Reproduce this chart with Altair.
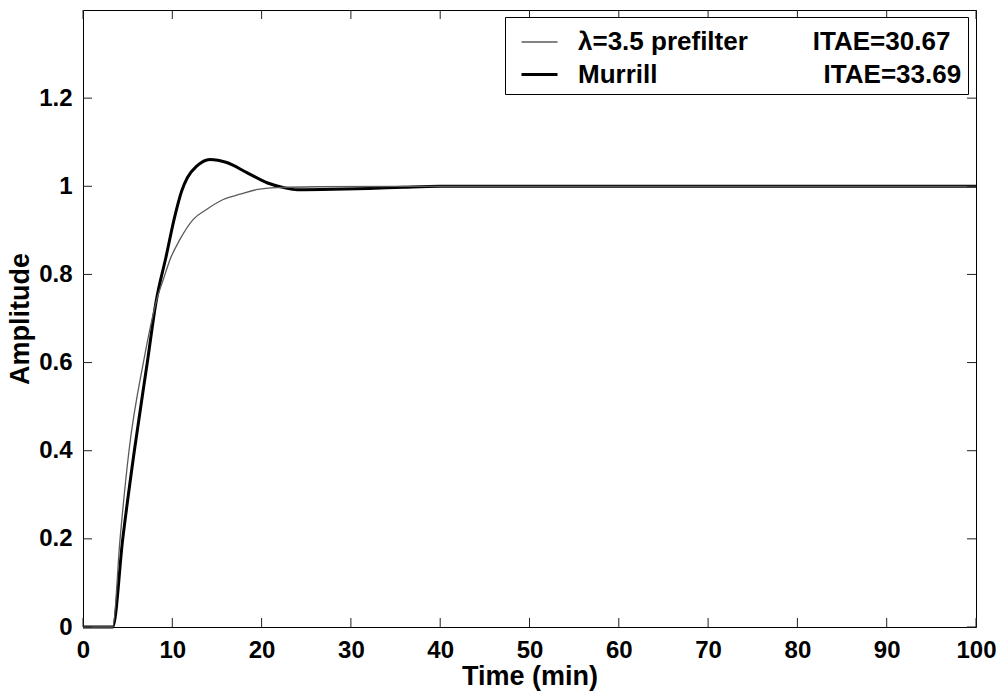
import altair as alt
import pandas as pd

# ---- data ----
t_prefilter = [0, 3.33, 4.15, 5.15, 6.76, 8.26, 9.0, 9.75, 10.87, 12.35, 13.87, 15.7, 17.6, 19.6, 22, 26, 35, 100]
y_prefilter = [0, 0, 0.2, 0.4, 0.6, 0.743, 0.789, 0.834, 0.88, 0.925, 0.948, 0.97, 0.982, 0.993, 0.997, 0.999, 1.0, 1.0]

t_murrill = [0, 3.33, 4.45, 5.75, 7.2, 8.2, 9.3, 10.2, 11.06, 11.7, 12.7, 14.2, 16.1, 18.35, 20.6, 22.5, 24, 28, 32, 36, 40, 100]
y_murrill = [0, 0, 0.2, 0.4, 0.6, 0.74, 0.84, 0.925, 0.99, 1.02, 1.045, 1.061, 1.054, 1.031, 1.008, 0.997, 0.992, 0.993, 0.995, 0.998, 1.0, 1.0]

x_ticks = [0, 10, 20, 30, 40, 50, 60, 70, 80, 90, 100]
y_ticks = [0, 0.2, 0.4, 0.6, 0.8, 1.0, 1.2]

NB = "\u00a0"
lab_pre = "λ=3.5 prefilter" + NB * 9 + "ITAE=30.67"
lab_mur = "Murrill" + NB * 23 + "ITAE=33.69"
series_labels = [lab_pre, lab_mur]

df = pd.concat([
    pd.DataFrame({"t": t_murrill, "y": y_murrill, "series": lab_mur}),
    pd.DataFrame({"t": t_prefilter, "y": y_prefilter, "series": lab_pre}),
], ignore_index=True)

W, H = 893, 617
FONT = "Liberation Sans"
TICK = 9

xscale = alt.Scale(domain=[0, 100], nice=False, zero=False)
yscale = alt.Scale(domain=[0, 1.4], nice=False, zero=False)

x_axis = alt.Axis(
    values=x_ticks, title="Time (min)", ticks=False, domain=False, grid=False,
    labelFontSize=24, labelFont=FONT, labelFontWeight="bold", labelColor="black",
    labelPadding=11, labelFlush=False, labelOverlap=False,
    titleFontSize=27, titleFont=FONT, titleFontWeight="bold", titleColor="black",
    titlePadding=1)
y_axis = alt.Axis(
    values=y_ticks, format="~g", title="Amplitude", ticks=False, domain=False, grid=False,
    labelFontSize=24, labelFont=FONT, labelFontWeight="bold", labelColor="black",
    labelPadding=11, labelFlush=False, labelOverlap=False,
    titleFontSize=27, titleFont=FONT, titleFontWeight="bold", titleColor="black",
    titlePadding=4)

leg = alt.Legend(
    orient="none", legendX=422, legendY=7, title=None,
    symbolType="stroke", symbolSize=1296, symbolOffset=9,
    labelFontSize=26, labelFont=FONT, labelFontWeight="bold", labelColor="black",
    labelLimit=700, fillColor="white", strokeColor="#000",
    padding=6, rowPadding=-5, labelOffset=19,
)

lines = alt.Chart(df).mark_line(interpolate="monotone").encode(
    x=alt.X("t:Q", scale=xscale, axis=x_axis),
    y=alt.Y("y:Q", scale=yscale, axis=y_axis),
    color=alt.Color("series:N", scale=alt.Scale(domain=series_labels, range=["#5a5a5a", "#000000"]), legend=leg),
    strokeWidth=alt.StrokeWidth("series:N", scale=alt.Scale(domain=series_labels, range=[1.3, 3.0]), legend=leg),
    detail="series:N",
)

xt = pd.DataFrame({"t": x_ticks})
yt = pd.DataFrame({"y": y_ticks})
tick_style = dict(color="#222", strokeWidth=1)

bottom_ticks = alt.Chart(xt).mark_rule(**tick_style).encode(
    x=alt.X("t:Q", scale=xscale, axis=x_axis), y=alt.value(H), y2=alt.value(H - TICK))
top_ticks = alt.Chart(xt).mark_rule(**tick_style).encode(
    x=alt.X("t:Q", scale=xscale, axis=x_axis), y=alt.value(0), y2=alt.value(TICK))
left_ticks = alt.Chart(yt).mark_rule(**tick_style).encode(
    y=alt.Y("y:Q", scale=yscale, axis=y_axis), x=alt.value(0), x2=alt.value(TICK))
right_ticks = alt.Chart(yt).mark_rule(**tick_style).encode(
    y=alt.Y("y:Q", scale=yscale, axis=y_axis), x=alt.value(W), x2=alt.value(W - TICK))

chart = alt.layer(lines, bottom_ticks, top_ticks, left_ticks, right_ticks).properties(
    width=W, height=H,
    padding={"left": 83, "top": 10, "right": 28, "bottom": 69},
    autosize=alt.AutoSizeParams(type="none"),
    background="white",
).configure_view(stroke="#000", strokeWidth=1)

chart.save("out.html", embed_options={"renderer": "svg", "actions": False})
